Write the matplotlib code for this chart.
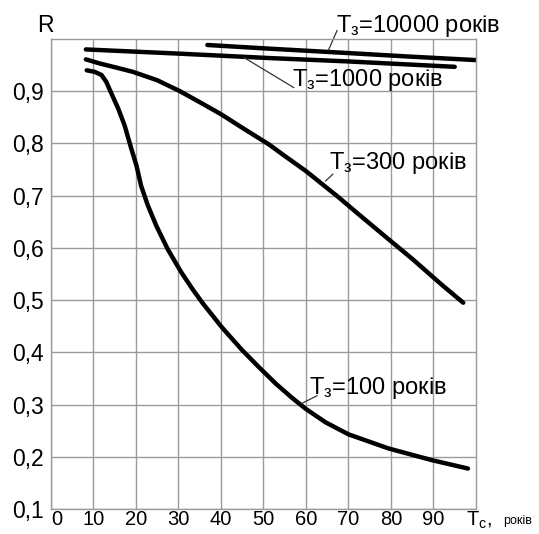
import numpy as np
import matplotlib.pyplot as plt

plt.rcParams['font.family'] = ['Liberation Sans', 'DejaVu Sans']
plt.rcParams['mathtext.fontset'] = 'custom'
plt.rcParams['mathtext.rm'] = 'Liberation Sans'

# curves: Tc (years) -> R
t10000_x = [36.8, 51.3, 70.0, 85.0, 100.0]
t10000_y = [0.9885, 0.9815, 0.973, 0.966, 0.9596]

t1000_x = [8.2, 30.0, 51.3, 70.0, 95.0]
t1000_y = [0.980, 0.972, 0.9635, 0.957, 0.9467]

t300_x = [8.2, 11.5, 15.0, 19.3, 25.0, 30.2, 35.0, 40.0, 45.0, 51.3, 55.0, 60.0,
          67.7, 72.0, 79.4, 85.0, 88.5, 92.0, 97.0]
t300_y = [0.961, 0.953, 0.946, 0.937, 0.921, 0.9006, 0.879, 0.856, 0.830, 0.798, 0.776, 0.747,
          0.6967, 0.667, 0.6167, 0.579, 0.554, 0.529, 0.495]

t100_x = [8.4, 10.3, 11.9, 13.0, 14.2, 15.8, 17.3, 18.9, 20.1, 21.2, 22.8, 24.8, 27.5,
          30.6, 33.3, 35.7, 40.3, 45.0, 49.0, 52.9, 56.7, 59.9,
          64.6, 70.0, 79.4, 89.6, 98.1]
t100_y = [0.940, 0.937, 0.931, 0.918, 0.896, 0.867, 0.835, 0.790, 0.758, 0.719, 0.681, 0.642, 0.597,
          0.554, 0.521, 0.494, 0.447, 0.404, 0.371, 0.340, 0.313, 0.292,
          0.266, 0.243, 0.216, 0.1936, 0.1775]

x_ticks = [0, 10, 20, 30, 40, 50, 60, 70, 80, 90]
y_ticks = [0.1, 0.2, 0.3, 0.4, 0.5, 0.6, 0.7, 0.8, 0.9]
y_labels = ['0,1', '0,2', '0,3', '0,4', '0,5', '0,6', '0,7', '0,8', '0,9']

fig = plt.figure(figsize=(5.39, 5.34), dpi=100)
ax = fig.add_axes([0.0946, 0.0468, 0.7885, 0.8802])

lw = 3.2
for xs, ys in [(t10000_x, t10000_y), (t1000_x, t1000_y), (t300_x, t300_y), (t100_x, t100_y)]:
    ax.plot(xs, ys, color='black', lw=lw, solid_capstyle='round', solid_joinstyle='round')

ax.set_xlim(0, 100)
ax.set_ylim(0.1, 1.0)
ax.set_xticks(x_ticks)
ax.set_xticklabels([str(v) for v in x_ticks], fontsize=14.5)
ax.set_yticks(y_ticks)
ax.set_yticklabels(y_labels, fontsize=16.5)
ax.xaxis.get_majorticklabels()[0].set_horizontalalignment('left')
ax.tick_params(length=0)
ax.tick_params(axis='y', pad=5)
ax.tick_params(axis='x', pad=0.5)
ax.grid(True, color='#9a9a9a', lw=1.0)
for s in ax.spines.values():
    s.set_color('#9a9a9a')
    s.set_linewidth(1.0)

# curve labels with leader lines
lab = dict(fontsize=17, color='black', va='center', ha='left')
leader = dict(color='#333333', lw=0.9, clip_on=False)

ax.text(67.0, 1.025, r'$\mathregular{T_з}$=10000 років', **lab)
ax.plot([67.3, 65.3], [1.016, 0.979], **leader)

ax.text(56.6, 0.921, r'$\mathregular{T_з}$=1000 років', **lab)
ax.plot([45.4, 57.1], [0.9645, 0.907], **leader)

ax.text(65.5, 0.763, r'$\mathregular{T_з}$=300 років', **lab)
ax.plot([66.3, 64.6], [0.741, 0.728], **leader)

ax.text(60.8, 0.331, r'$\mathregular{T_з}$=100 років', **lab)
ax.plot([62.6, 59.1], [0.317, 0.3025], **leader)

ax.text(-1.4, 1.013, 'R', fontsize=16.5, ha='center', va='baseline')
fig.text(466 / 539, 1 - 520 / 534, r'$\mathregular{T_c}$,', fontsize=14.5, ha='left', va='center')
fig.text(503 / 539, 1 - 521 / 534, 'років', fontsize=9, ha='left', va='center')

fig.savefig('out.png', dpi=100)
